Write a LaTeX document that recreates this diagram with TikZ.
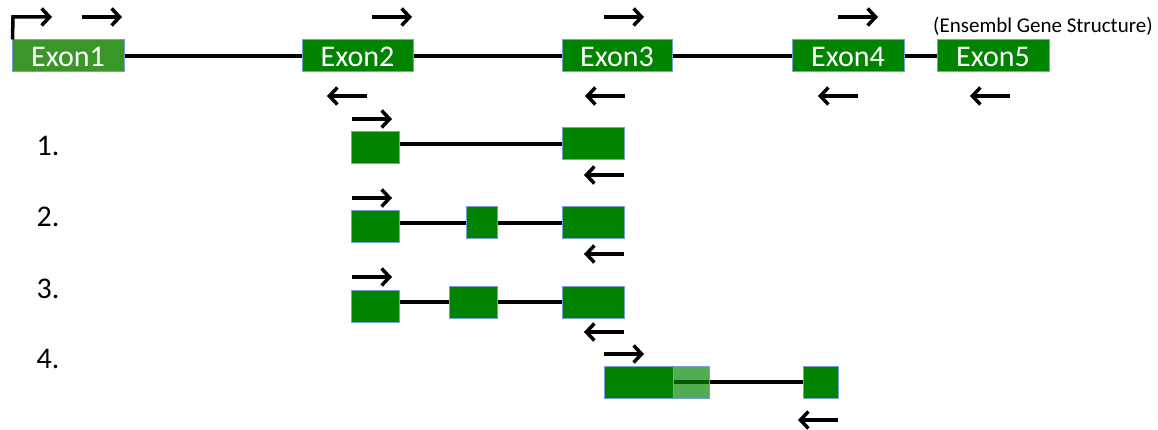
\documentclass[tikz,border=0pt]{standalone}
\usepackage{fontspec}
\setmainfont{Carlito}
\usetikzlibrary{arrows.meta}
\definecolor{exongreen}{RGB}{0,132,0}
\definecolor{exonlight}{RGB}{58,150,40}
\definecolor{exonline}{RGB}{120,160,210}
\tikzset{
  exon/.style={draw=exonline, fill=exongreen, line width=1pt, minimum width=#1, minimum height=32pt, inner sep=0pt, text=white, font=\fontsize{30}{34}\selectfont, text height=21pt, text depth=0pt},
  intron/.style={line width=3.2pt, black},
  primer/.style={line width=3.5pt, -{Straight Barb[length=8pt,width=17pt]}},
  rowlabel/.style={font=\fontsize{30}{34}\selectfont, inner sep=0pt}
}
\begin{document}
\begin{tikzpicture}[x=1pt,y=-1pt]
\useasboundingbox (0,0) rectangle (1158,430);
% top gene structure
\node[exon=112, fill=exonlight] (e1) at (68,56) {Exon1};
\node[exon=111] (e2) at (357.5,56) {Exon2};
\node[exon=110] (e3) at (617,56) {Exon3};
\node[exon=112] (e4) at (848,56) {Exon4};
\node[exon=112] (e5) at (993,56) {Exon5};
\draw[intron] (e1.east) -- (e2.west);
\draw[intron] (e2.east) -- (e3.west);
\draw[intron] (e3.east) -- (e4.west);
\draw[intron] (e4.east) -- (e5.west);
\node[font=\fontsize{21}{24}\selectfont, anchor=west, inner sep=0pt] (title) at (933,26) {(Ensembl Gene Structure)};
\coordinate (tss) at (13,17);
\draw[primer] (e1.north west) ++(1,0) -- (tss) -- ++(39,0);
\draw[primer] (82,17) -- (122,17);
\draw[primer] (372,17) -- (412,17);
\draw[primer] (604,17) -- (644,17);
\draw[primer] (838,17) -- (878,17);
\draw[primer] (367,96) -- (327,96);
\draw[primer] (625,96) -- (585,96);
\draw[primer] (858,96) -- (818,96);
\draw[primer] (1010,96) -- (970,96);
% row 1
\node[rowlabel] (n1) at (48,146) {1.};
\node[exon=48] (l1) at (375,148) {};
\node[exon=62] (r1) at (593,144) {};
\draw[intron] (l1.east |- r1.west) -- (r1.west);
\draw[primer] (352,119) -- (392,119);
\draw[primer] (624,175) -- (584,175);
% row 2
\node[rowlabel] (n2) at (48,217) {2.};
\node[exon=48] (l2) at (375,227) {};
\node[exon=31] (m2) at (481.5,223) {};
\node[exon=62] (r2) at (593,223) {};
\draw[intron] (l2.east |- m2.west) -- (m2.west);
\draw[intron] (m2.east) -- (r2.west);
\draw[primer] (352,198) -- (392,198);
\draw[primer] (624,254) -- (584,254);
% row 3
\node[rowlabel] (n3) at (48,289) {3.};
\node[exon=48] (l3) at (375,306) {};
\node[exon=48] (m3) at (473,302) {};
\node[exon=62] (r3) at (593,302) {};
\draw[intron] (l3.east |- m3.west) -- (m3.west);
\draw[intron] (m3.east) -- (r3.west);
\draw[primer] (352,277) -- (392,277);
\draw[primer] (624,332) -- (584,332);
% row 4
\node[rowlabel] (n4) at (48,359) {4.};
\node[exon=69] (a4) at (638.5,382) {};
\node[exon=35] (c4) at (820.5,382) {};
\draw[intron] (a4.east) -- (c4.west);
\node[exon=36, fill opacity=0.68] (b4) at (691,382) {};
\draw[primer] (604,354) -- (644,354);
\draw[primer] (838,420) -- (798,420);
\end{tikzpicture}
\end{document}
